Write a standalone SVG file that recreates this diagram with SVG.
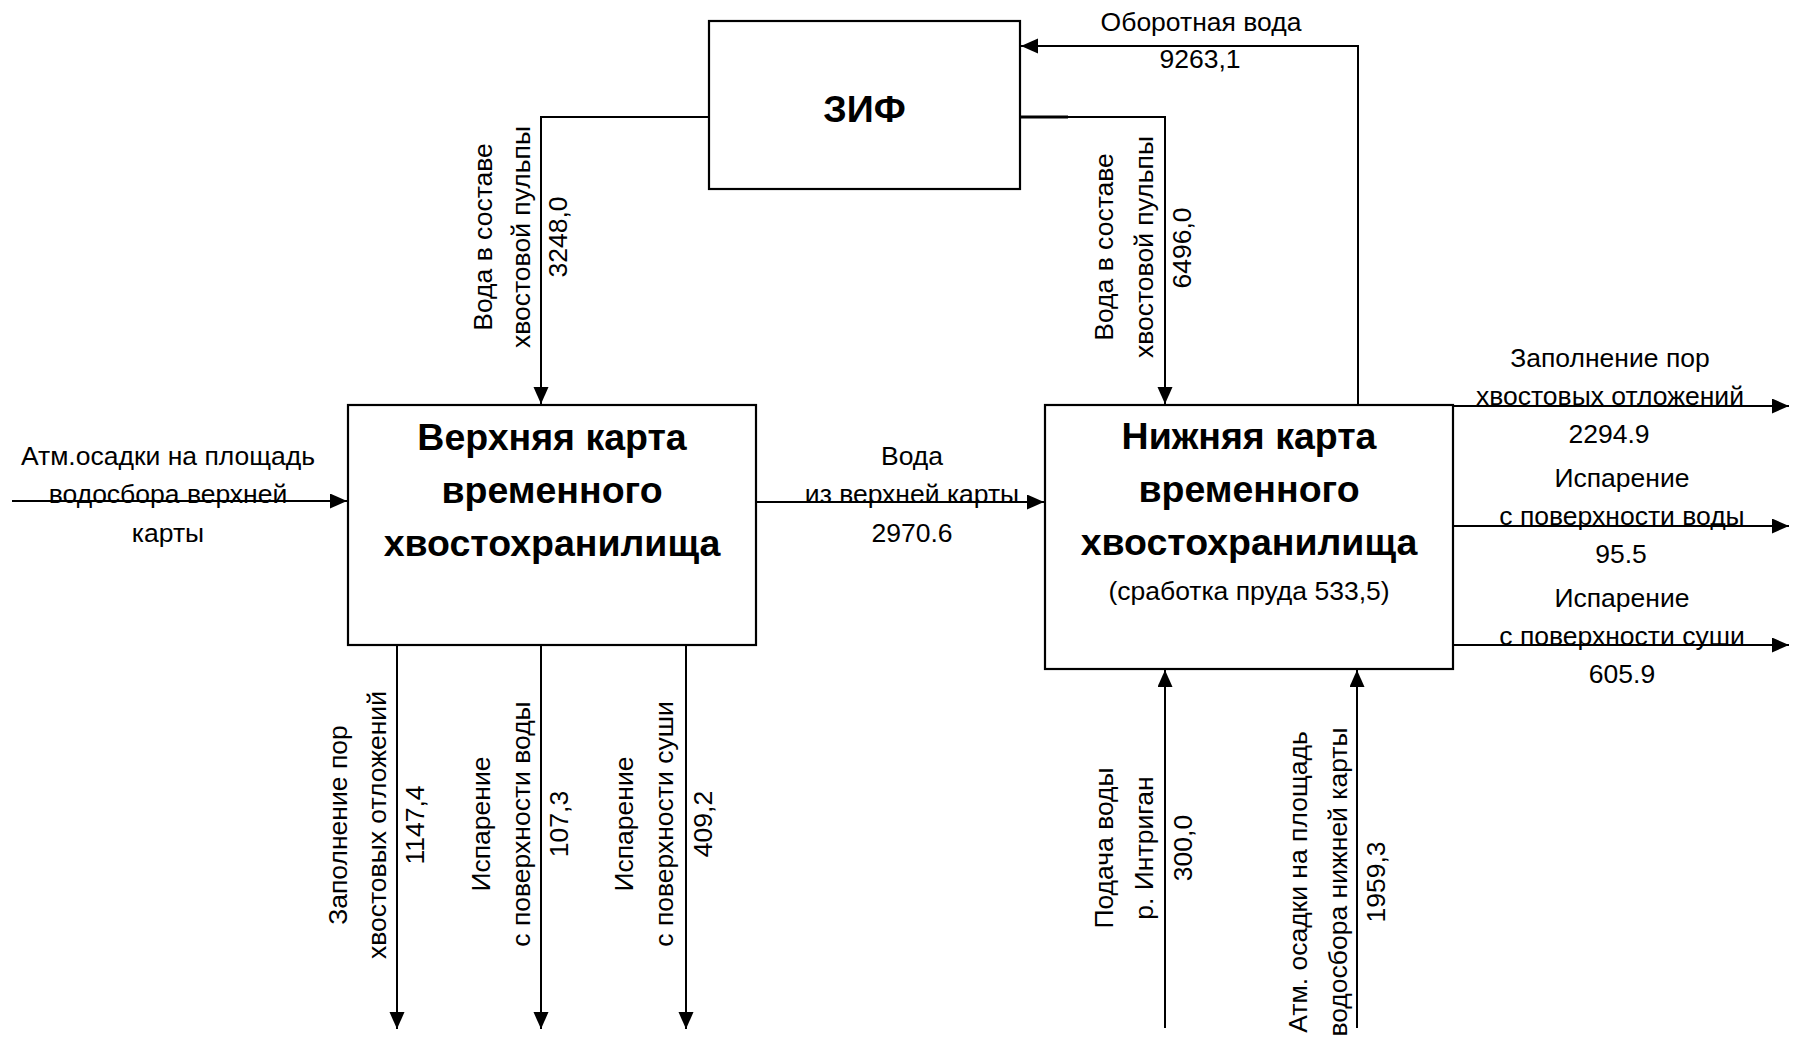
<svg xmlns="http://www.w3.org/2000/svg" width="1804" height="1040" viewBox="0 0 1804 1040">
<defs>
<marker id="arr" markerUnits="userSpaceOnUse" markerWidth="18" markerHeight="16" refX="17" refY="7.5" orient="auto">
<path d="M0,0 L17,7.5 L0,15 Z" fill="#000"/>
</marker>
<style>
.box{fill:#fff;stroke:#000;stroke-width:2.2}
.ln{fill:none;stroke:#000;stroke-width:2}
.t{font-family:"Liberation Sans",Arial,sans-serif;font-size:26.5px;fill:#000;text-anchor:middle}
.b{font-family:"Liberation Sans",Arial,sans-serif;font-size:37.5px;font-weight:bold;fill:#000;text-anchor:middle}
</style>
</defs>
<rect width="1804" height="1040" fill="#fff"/>

<g id="connectors">
<path class="ln" d="M1358,405 V46 H1021" marker-end="url(#arr)"/>
<path class="ln" d="M709,117 H541 V404" marker-end="url(#arr)"/>
<path class="ln" d="M1020,117 H1165 V404" marker-end="url(#arr)"/>
<path class="ln" d="M1020,117 H1068" style="stroke-width:3"/>
<path class="ln" d="M12,501 H347" marker-end="url(#arr)"/>
<path class="ln" d="M757,502 H1044" marker-end="url(#arr)"/>
<path class="ln" d="M1453,406 H1789" marker-end="url(#arr)"/>
<path class="ln" d="M1453,526 H1789" marker-end="url(#arr)"/>
<path class="ln" d="M1453,645 H1789" marker-end="url(#arr)"/>
<path class="ln" d="M397,645 V1029" marker-end="url(#arr)"/>
<path class="ln" d="M541,645 V1029" marker-end="url(#arr)"/>
<path class="ln" d="M686,645 V1029" marker-end="url(#arr)"/>
<path class="ln" d="M1165,1028 V670" marker-end="url(#arr)"/>
<path class="ln" d="M1357,1028 V670" marker-end="url(#arr)"/>
</g>

<g id="zif">
<rect class="box" x="709" y="21" width="311" height="168"/>
<text class="b" x="864.5" y="122">ЗИФ</text>
</g>

<g id="upper">
<rect class="box" x="348" y="405" width="408" height="240"/>
<text class="b" x="552" y="450">Верхняя карта</text>
<text class="b" x="552" y="503">временного</text>
<text class="b" x="552" y="556">хвостохранилища</text>
</g>

<g id="lower">
<rect class="box" x="1045" y="405" width="408" height="264"/>
<text class="b" x="1249" y="449">Нижняя карта</text>
<text class="b" x="1249" y="502">временного</text>
<text class="b" x="1249" y="555">хвостохранилища</text>
<text class="t" x="1249" y="600">(сработка пруда 533,5)</text>
</g>

<g id="labels">
<text class="t" x="1201" y="31">Оборотная вода</text>
<text class="t" x="1200" y="68">9263,1</text>

<text class="t" x="168" y="465">Атм.осадки на площадь</text>
<text class="t" x="168" y="503">водосбора верхней</text>
<text class="t" x="168" y="542">карты</text>

<text class="t" x="912" y="465">Вода</text>
<text class="t" x="912" y="503">из верхней карты</text>
<text class="t" x="912" y="542">2970.6</text>

<text class="t" x="1610" y="367">Заполнение пор</text>
<text class="t" x="1610" y="405">хвостовых отложений</text>
<text class="t" x="1609" y="443">2294.9</text>
<text class="t" x="1622" y="487">Испарение</text>
<text class="t" x="1622" y="525">с поверхности воды</text>
<text class="t" x="1621" y="563">95.5</text>
<text class="t" x="1622" y="607">Испарение</text>
<text class="t" x="1622" y="645">с поверхности суши</text>
<text class="t" x="1622" y="683">605.9</text>

<text class="t" transform="rotate(-90 492 237)" x="492" y="237">Вода в составе</text>
<text class="t" transform="rotate(-90 530 237)" x="530" y="237">хвостовой пульпы</text>
<text class="t" transform="rotate(-90 567 237)" x="567" y="237">3248,0</text>

<text class="t" transform="rotate(-90 1113 247)" x="1113" y="247">Вода в составе</text>
<text class="t" transform="rotate(-90 1153 247)" x="1153" y="247">хвостовой пульпы</text>
<text class="t" transform="rotate(-90 1191 248)" x="1191" y="248">6496,0</text>

<text class="t" transform="rotate(-90 347 825)" x="347" y="825">Заполнение пор</text>
<text class="t" transform="rotate(-90 386 825)" x="386" y="825">хвостовых отложений</text>
<text class="t" transform="rotate(-90 424 825)" x="424" y="825">1147,4</text>

<text class="t" transform="rotate(-90 490 824)" x="490" y="824">Испарение</text>
<text class="t" transform="rotate(-90 530 824)" x="530" y="824">с поверхности воды</text>
<text class="t" transform="rotate(-90 568 824)" x="568" y="824">107,3</text>

<text class="t" transform="rotate(-90 633 824)" x="633" y="824">Испарение</text>
<text class="t" transform="rotate(-90 673 824)" x="673" y="824">с поверхности суши</text>
<text class="t" transform="rotate(-90 712 824)" x="712" y="824">409,2</text>

<text class="t" transform="rotate(-90 1113 848)" x="1113" y="848">Подача воды</text>
<text class="t" transform="rotate(-90 1153 848)" x="1153" y="848">р. Интриган</text>
<text class="t" transform="rotate(-90 1192 848)" x="1192" y="848">300,0</text>

<text class="t" transform="rotate(-90 1307 882)" x="1307" y="882">Атм. осадки на площадь</text>
<text class="t" transform="rotate(-90 1347 882)" x="1347" y="882">водосбора нижней карты</text>
<text class="t" transform="rotate(-90 1385 882)" x="1385" y="882">1959,3</text>
</g>
</svg>
